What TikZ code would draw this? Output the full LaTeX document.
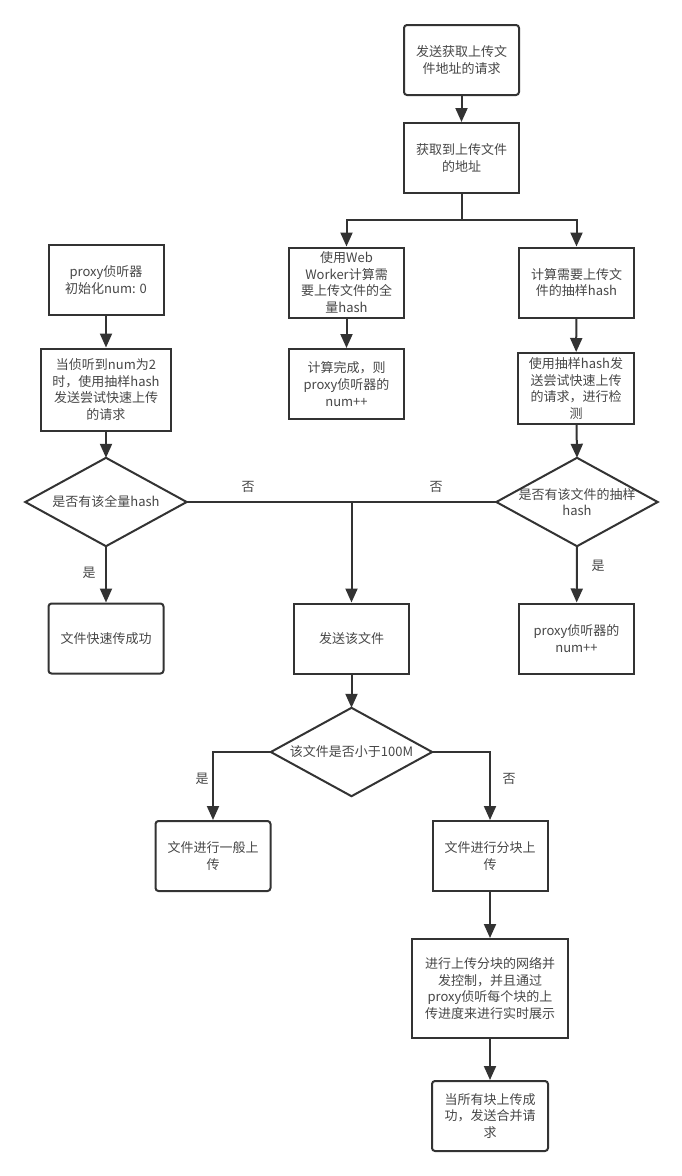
\documentclass[tikz,border=0pt]{standalone}
\usepackage{fontspec}
\setmainfont{Noto Sans CJK SC}
\usetikzlibrary{arrows.meta}
\definecolor{ink}{HTML}{333333}
\def\txtfont{\fontsize{13}{16.6}\selectfont}

\begin{document}
\begin{tikzpicture}[x=1pt, y=-1pt,
		box/.style={draw=ink, line width=2pt, fill=white, minimum width=115pt, minimum height=70pt, inner sep=0pt, align=center, text=black!72, font=\txtfont},
		rbox/.style={box, rounded corners=3pt},
		choice/.style={minimum width=161pt, minimum height=88pt, inner sep=0pt, align=center, text=black!72, font=\txtfont},
		flow/.style={draw=ink, line width=2pt, -{Triangle[length=14pt, width=12pt]}},
		wire/.style={draw=ink, line width=2pt},
		tag/.style={text=black!72, font=\txtfont}]
			%%%%% START %%%%%
			
			\path[fill=white] (0, 0) rectangle (682, 1176);
			\useasboundingbox (0, 0) rectangle (682, 1176);
			
			\node[rbox] (askaddr) at (461.5, 60) {发送获取上传文\\件地址的请求};
			\node[box] (gotaddr) at (461.5, 158) {获取到上传文件\\的地址};
			
			\node[box] (fullhash) at (346.5, 282.5) {使用Web\\Worker计算需\\要上传文件的全\\量hash};
			\node[box] (samplehash) at (576.5, 282.5) {计算需要上传文\\件的抽样hash};
			\node[box] (fulldone) at (346.5, 384) {计算完成，则\\proxy侦听器的\\num++};
			\node[box, minimum width=116pt, minimum height=71pt] (trysample) at (576, 388.5) {使用抽样hash发\\送尝试快速上传\\的请求，进行检\\测};
			
			\node[box] (proxyinit) at (106, 280) {proxy侦听器\\初始化num: 0};
			\node[box, minimum width=130pt, minimum height=82pt] (tryfull) at (106, 389.5) {当侦听到num为2\\时，使用抽样hash\\发送尝试快速上传\\的请求};
			
			\node[choice] (hasfull) at (106, 502) {是否有该全量hash};
			\draw[wire] (hasfull.north) -- (hasfull.east) -- (hasfull.south) -- (hasfull.west) -- cycle;
			\node[choice] (hassample) at (577, 502) {是否有该文件的抽样\\hash};
			\draw[wire] (hassample.north) -- (hassample.east) -- (hassample.south) -- (hassample.west) -- cycle;
			
			\node[rbox] (fastok) at (106, 638.5) {文件快速传成功};
			\node[box] (sendfile) at (351.5, 638.5) {发送该文件};
			\node[box] (proxyinc) at (576.5, 638.5) {proxy侦听器的\\num++};
			
			\node[choice] (small) at (351.5, 752) {该文件是否小于100M};
			\draw[wire] (small.north) -- (small.east) -- (small.south) -- (small.west) -- cycle;
			
			\node[rbox] (plainup) at (213, 856) {文件进行一般上\\传};
			\node[box] (chunkup) at (490, 856) {文件进行分块上\\传};
			\node[box, minimum width=156pt, minimum height=99pt] (control) at (490, 988.5) {进行上传分块的网络并\\发控制，并且通过\\proxy侦听每个块的上\\传进度来进行实时展示};
			\node[rbox, minimum width=116pt] (merge) at (490, 1116) {当所有块上传成\\功，发送合并请\\求};
			
			\coordinate (fork) at (461.5, 220);
			\coordinate (join) at (351.5, 502);
			
			\draw[flow] (askaddr) -- (gotaddr);
			\draw[wire] (gotaddr.south) -- (fork);
			\draw[flow] (fork) -| (fullhash.north);
			\draw[flow] (fork) -| (samplehash.north);
			\draw[flow] (fullhash) -- (fulldone);
			\draw[flow] (samplehash) -- (trysample);
			\draw[flow] (trysample) -- (hassample.north);
			
			\draw[flow] (proxyinit) -- (tryfull);
			\draw[flow] (tryfull) -- (hasfull.north);
			\draw[flow] (hasfull.south) -- (fastok);
			\draw[wire] (hasfull.east) -- (hassample.west);
			\draw[flow] (join) -- (sendfile);
			\draw[flow] (hassample.south) -- (proxyinc);
			
			\draw[flow] (sendfile) -- (small.north);
			\draw[flow] (small.west) -| (plainup.north);
			\draw[flow] (small.east) -| (chunkup.north);
			\draw[flow] (chunkup) -- (control);
			\draw[flow] (control) -- (merge);
			
			\node[tag] (nofull) at (248, 487) {否};
			\node[tag] (nosample) at (436, 487) {否};
			\node[tag] (yesfull) at (89, 573) {是};
			\node[tag] (yessample) at (598, 566) {是};
			\node[tag] (yessmall) at (202, 779) {是};
			\node[tag] (nosmall) at (509, 779) {否};
			
			%%%%% END %%%%%
		\end{tikzpicture}
\end{document}
